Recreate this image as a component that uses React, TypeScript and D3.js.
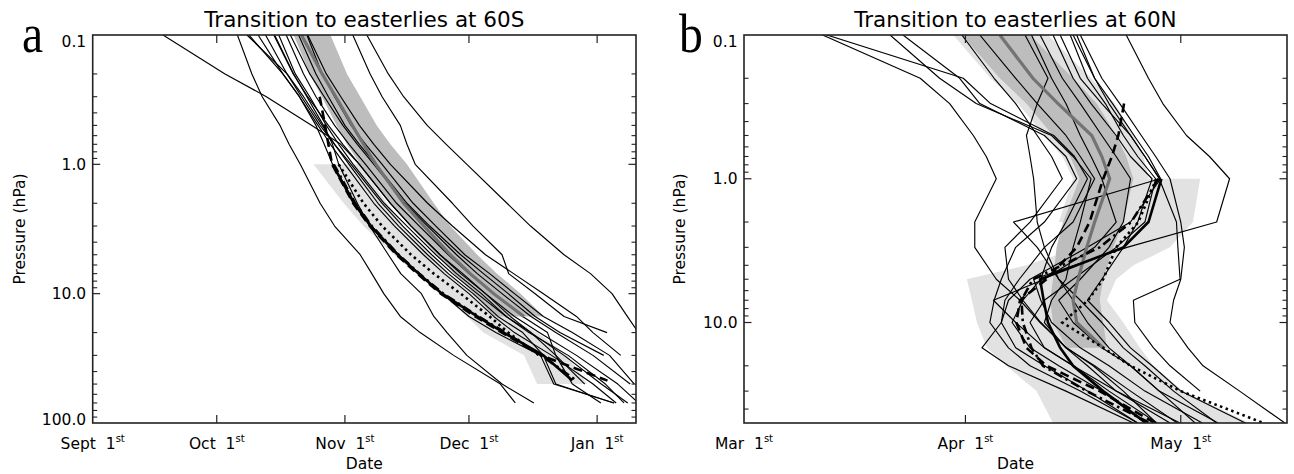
import React from 'react';
import * as d3 from 'd3';

type Num = number | null;

// ---------------- Panel a : transition to easterlies at 60S (days from Sept 1st) ----------------
const LEVELS_A = [0.1, 0.2, 0.3, 0.5, 0.7, 1, 2, 3, 5, 7, 10, 15, 20, 30, 50, 70];
const MODELS_A: Num[][] = [
  [17, 32, 42, 53, 60, 64.5, 72, 77, 84, 89.5, 95, 101, 106, 112, 119, null],
  [35, 38.5, 41, 45.3, 47.5, 50.2, 55, 58.5, 64.7, 67.5, 70.4, 74.4, 79.2, 87.3, 98.6, 102.2],
  [44, 48.6, 51.8, 55.8, 58, 59.5, 64, 67, 71.5, 74.5, 79.5, 82.5, 85.7, 90.5, 99, 106.7],
  [66.3, 71.5, 75.2, 80.9, 85.5, 90.5, 100.2, 105.9, 114, 120.4, 125.6, 129.3, 132, null, null, null],
  [62.9, 67.1, 70, 74.4, 76, 78, 87, 92, 99, 100.6, 107, 114, 124.4, null, null, null],
  [52, 56.5, 60, 64.5, 68, 72, 81, 87, 95, 101.8, 109, 117, 121, 127.7, null, null],
  [37.3, 47, 51, 55.5, 58.5, 62, 69, 74, 81, 86, 92, 98, 104, 109, 112, 126],
  [37.8, 46, 50, 54.5, 57.5, 61, 68, 73, 80, 85, 91, 97, 102, 111, 121, 126.6],
  [41.8, 47, 50.5, 55, 58.5, 62.5, 70, 75, 82, 87, 93, 100, 106, 114, 123, 129.4],
  [43.8, 48.5, 52, 57, 60.5, 64.5, 72, 77, 84, 89, 95, 102, 108, 117, 127, 132],
  [46.8, 51, 54, 58.5, 62, 66, 73.5, 79, 86, 91, 97, 104, 110, 112, 116, 122.9],
  [47.8, 52.5, 56, 60.5, 64, 68, 75.5, 81, 88, 93, 99, 106, 112, 121, 130, null],
  [49.8, 54, 57, 61, 64.5, 68.5, 76, 81.5, 89, 94.5, 100.5, 107, 113, 123.6, null, null],
  [51.8, 55.5, 58.5, 62.5, 66, 70, 77.5, 83, 90, 96, 102, 109, 116, 125, 131, null],
  [45, 49, 52.5, 56.5, 59.5, 63, 70.5, 76, 83, 88, 94, 100, 105.5, 115, 124, 128.5],
  [40, 46, 50, 54, 56, 58, 63.5, 67.5, 74, 79, 84.5, 91, 97.5, 108.3, 111.5, 126.1],
];
const SPREAD_LEV_A = [0.1, 0.2, 0.3, 0.5, 0.7, 1, 2, 3, 5, 7, 10, 15];
const SPREAD_LO_A = [48.6, 52.5, 55.4, 59, 61.5, 64.7, 72, 76.8, 83.3, 87.3, 92.2, 97];
const SPREAD_HI_A = [57.5, 61.5, 64.7, 68.7, 72, 76, 82.5, 86.5, 93, 97.8, 103.5, 109.1];
const MMM_A = [50.5, 55.5, 58.8, 62.8, 65.5, 68.5, 75.2, 80.1, 86.5, 91.3, 97, 104.3];
const OBSBAND_LEV_A = [1, 2, 3, 5, 7, 10, 15, 20, 30, 50];
const OBSBAND_LO_A = [53.4, 60.7, 65.5, 72.8, 78.4, 84.1, 90.5, 94.5, 104.3, 107.5];
const OBSBAND_HI_A = [64.7, 71.2, 75.2, 81.7, 86.5, 92.2, 100.2, 107.5, 114.8, 119.6];
const OBS_LEV_A = [0.3, 0.5, 0.7, 1, 2, 3, 5, 7, 10, 15, 20, 30, 47];
const OBS_SOLID_A: Num[] = [null, null, null, 58, 63.2, 67.2, 73.8, 78.8, 84.5, 93, 99.4, 109, 116];
const OBS_DASH_A: Num[] = [54.9, 56.2, 57, 57.9, 63, 67, 73.5, 78.5, 84.2, 92.5, 99, 108.5, 124.5];
const OBS_DASHDOT_A: Num[] = [null, null, null, 58.3, 63.5, 67.5, 74, 79, 84.8, 93.3, 99.8, 108.5, 117];
const OBS_DOT_A: Num[] = [null, null, null, 59.5, 65.5, 70, 77, 82.5, 89, 96, 100.5, 108, null];
const MONTH_DAYS_A = [0, 30, 61, 91, 122];
const MONTH_NAMES_A = ['Sept', 'Oct', 'Nov', 'Dec', 'Jan'];
const YTICKS_A = [0.1, 1, 10, 100];
const YTICK_LABELS_A = ['0.1', '1.0', '10.0', '100.0'];

// ---------------- Panel b : transition to easterlies at 60N (days from Mar 1st) ----------------
const LEVELS_B = [0.1, 0.2, 0.3, 0.5, 0.7, 1, 2, 3, 5, 7, 10, 15, 20, 30, 50];
const MODELS_B: Num[][] = [
  [11.1, 24.7, 28.8, 32.1, 33.9, 35.3, 32.3, 32.3, 35.3, 38.6, 41.4, 45.1, 48.8, 53, 57.6],
  [11.7, 30.7, 34.5, 43.3, 46.2, 48, 45, 43, 41.5, 39, 37.5, 40, 44, 50, 56],
  [20.5, 27.4, 32.5, 43, 46, 48.5, 47, 46, 45, 43, 42, 45, 49, 54, 60.5],
  [22.3, 30.2, 33, 42, 45, 46.5, 42, 38, 36, 35, 34.4, 37, 40, 47, 55],
  [39.3, 42.5, 41, 39.5, 40, 40.5, 41, 42, 44, 47, 50, 53, 56, 60, 66],
  [40.2, 43, 45, 47, 48.5, 50, 52, 49, 42, 34.9, 38, 42, 46, 51, 57.7],
  [41.4, 44.5, 47, 50, 52, 54, 53, 51, 47, 44, 46, 50, 54, 58, 66.2],
  [43.2, 46, 48.5, 52, 54, 57, 55, 53, 50, 48, 51, 54, 57, 61, 70],
  [44.2, 47, 50, 54, 56, 58, 60.4, 60.6, 60.9, 54.4, 54.6, 57.2, 59.5, 63.7, null],
  [45.6, 48, 50.5, 53, 55, 57.5, 56, 52, 46, 42, 40, 42, 46, 52, 60.9],
  [46, 49, 51.5, 54.5, 56.5, 58.2, 54, 48, 40, 37, 36, 38, 42, 48, 55],
  [53.4, 56.5, 58.5, 61.8, 65, 67.8, 66, 53.5, 40.5, 41.5, 43, 47, 51, 56, 64],
  [33, 38, 41, 45, 47, 49, 46, 42, 38.5, 36.5, 36, 33.3, 37, 45, 54.4],
  [47, 50, 52.5, 55.5, 57.5, 59.5, 61, 61.5, 61, 60, 59.5, 62, 64.1, 69.2, 75.5],
  [46.5, 49, 51, 54, 56, 58.1, 37.7, 41, 44, 46, 48, 51, 54, 58, 63],
  [30.5, 35, 38, 41, 43, 44.5, 40, 36.5, 37, 39, 41.5, 45, 48, 52, 59.5],
];
const SPREAD_LEV_B = [0.1, 0.2, 0.3, 0.5, 0.7, 1, 2, 3, 5, 7, 10, 15];
const SPREAD_LO_B = [30.5, 35.8, 39.5, 43.2, 45.6, 46.9, 44.6, 43.7, 43.2, 42.8, 43.2, 45.1];
const SPREAD_HI_B = [40, 46, 49.3, 52, 53.4, 54.4, 53, 51.6, 50.2, 49.7, 50.2, 50.7];
const RANGE_LEV_B = [0.1, 0.2, 0.3, 0.5, 0.7, 1, 2];
const RANGE_LO_B = [29.3, 34.5, 38.3, 42, 44.5, 46, 44];
const RANGE_HI_B = [42.5, 48.5, 51.8, 54.5, 55.8, 56.5, 54.5];
const MMM_B = [35.8, 40.4, 43.9, 48.6, 50, 51.1, 49, 47.9, 46.7, 46, 46.5, 50.2];
const OBSBAND_LEV_B = [1, 2, 3, 4, 5, 7, 10, 15, 20, 30, 50];
const OBSBAND_LO_B = [55.3, 51.6, 46.9, 39.5, 31.2, 31.9, 32.6, 34, 36.7, 40.9, 43.2];
const OBSBAND_HI_B = [63.7, 62.7, 59.5, 54.4, 52, 50.7, 53, 55.3, 57.2, 61.3, 70.6];
const OBS_LEV_B = [0.3, 0.5, 0.7, 1, 2, 3, 5, 7, 10, 15, 20, 30, 50];
const OBS_SOLID_B: Num[] = [null, null, null, 58.3, 56.5, 53, 41.4, 41.9, 42.5, 44.2, 46, 50.2, 56.2];
const OBS_DASH_B: Num[] = [53.1, 52.3, 51.4, 50.2, 48.3, 46.5, 42.3, 38.6, 38.1, 39.5, 42.3, 49.7, 57.4];
const OBS_DASHDOT_B: Num[] = [null, null, null, 57.9, 54.1, 49.7, 40.4, 38.8, 39, 40.2, 41.8, 47.9, 56.7];
const OBS_DOT_B: Num[] = [null, null, null, 57.6, 55.1, 52, 50.2, 48.1, 44.5, 50.2, 54, 61, 72.5];
const MONTH_DAYS_B = [0, 31, 61];
const MONTH_NAMES_B = ['Mar', 'Apr', 'May'];
const YTICKS_B = [0.1, 1, 10];
const YTICK_LABELS_B = ['0.1', '1.0', '10.0'];

// ---------------- layout ----------------
const FONT = '"DejaVu Sans", sans-serif';

interface Cfg {
  id: string;
  left: number; right: number; top: number; bottom: number;
  dayDomain: [number, number]; pDomain: [number, number];
  title: string; letter: string; letterX: number; ylabelX: number;
  monthDays: number[]; monthNames: string[];
  yTicks: number[]; yTickLabels: string[];
  levels: number[]; models: Num[][];
  spreadLev: number[]; spreadLo: number[]; spreadHi: number[]; mmm: number[];
  rangeLev?: number[]; rangeLo?: number[]; rangeHi?: number[];
  obsBandLev: number[]; obsBandLo: number[]; obsBandHi: number[];
  obsLev: number[]; obsSolid: Num[]; obsDash: Num[]; obsDashDot: Num[]; obsDot: Num[];
}

const CFG_A: Cfg = {
  id: 'a', left: 92.7, right: 636, top: 35, bottom: 423,
  dayDomain: [0, 131.4], pDomain: [0.1, 100],
  title: 'Transition to easterlies at 60S', letter: 'a', letterX: 22, ylabelX: 25,
  monthDays: MONTH_DAYS_A, monthNames: MONTH_NAMES_A,
  yTicks: YTICKS_A, yTickLabels: YTICK_LABELS_A,
  levels: LEVELS_A, models: MODELS_A,
  spreadLev: SPREAD_LEV_A, spreadLo: SPREAD_LO_A, spreadHi: SPREAD_HI_A, mmm: MMM_A,
  obsBandLev: OBSBAND_LEV_A, obsBandLo: OBSBAND_LO_A, obsBandHi: OBSBAND_HI_A,
  obsLev: OBS_LEV_A, obsSolid: OBS_SOLID_A, obsDash: OBS_DASH_A, obsDashDot: OBS_DASHDOT_A, obsDot: OBS_DOT_A,
};

const CFG_B: Cfg = {
  id: 'b', left: 744, right: 1287, top: 35, bottom: 423,
  dayDomain: [0.15, 75.8], pDomain: [0.1, 50],
  title: 'Transition to easterlies at 60N', letter: 'b', letterX: 679, ylabelX: 685,
  monthDays: MONTH_DAYS_B, monthNames: MONTH_NAMES_B,
  yTicks: YTICKS_B, yTickLabels: YTICK_LABELS_B,
  levels: LEVELS_B, models: MODELS_B,
  spreadLev: SPREAD_LEV_B, spreadLo: SPREAD_LO_B, spreadHi: SPREAD_HI_B, mmm: MMM_B,
  rangeLev: RANGE_LEV_B, rangeLo: RANGE_LO_B, rangeHi: RANGE_HI_B,
  obsBandLev: OBSBAND_LEV_B, obsBandLo: OBSBAND_LO_B, obsBandHi: OBSBAND_HI_B,
  obsLev: OBS_LEV_B, obsSolid: OBS_SOLID_B, obsDash: OBS_DASH_B, obsDashDot: OBS_DASHDOT_B, obsDot: OBS_DOT_B,
};

function Panel({ c }: { c: Cfg }) {
  const x = d3.scaleLinear().domain(c.dayDomain).range([c.left, c.right]);
  const y = d3.scaleLog().domain(c.pDomain).range([c.top, c.bottom]);
  const line = d3
    .line<[Num, number]>()
    .defined((d) => d[0] !== null)
    .x((d) => x(d[0] as number))
    .y((d) => y(d[1]));
  const series = (days: Num[], lev: number[]) => line(days.map((d, i) => [d, lev[i]] as [Num, number])) || '';
  const band = (lev: number[], lo: number[], hi: number[]) => {
    const pts: [number, number][] = [
      ...lev.map((p, i) => [x(lo[i]), y(p)] as [number, number]),
      ...lev.map((p, i) => [x(hi[i]), y(p)] as [number, number]).reverse(),
    ];
    return (d3.line()(pts) || '') + 'Z';
  };

  const minor: number[] = [];
  for (let e = -1; e <= 2; e++) {
    for (let k = 2; k <= 9; k++) {
      const v = k * Math.pow(10, e);
      if (v > c.pDomain[0] * 1.0001 && v < c.pDomain[1] * 0.9999) minor.push(v);
    }
  }
  const cx = (c.left + c.right) / 2;
  const cy = (c.top + c.bottom) / 2;
  const clipId = 'clip' + c.id;
  const ax = '#222';

  return (
    <g>
      <defs>
        <clipPath id={clipId}>
          <rect x={c.left} y={c.top} width={c.right - c.left} height={c.bottom - c.top} />
        </clipPath>
      </defs>
      <g clipPath={`url(#${clipId})`}>
        <path d={band(c.obsBandLev, c.obsBandLo, c.obsBandHi)} fill="#e2e2e2" stroke="none" />
        {c.rangeLev && c.rangeLo && c.rangeHi && (
          <path d={band(c.rangeLev, c.rangeLo, c.rangeHi)} fill="#e2e2e2" stroke="none" />
        )}
        <path d={band(c.spreadLev, c.spreadLo, c.spreadHi)} fill="#bdbdbd" stroke="none" />
        {c.models.map((m, i) => (
          <path key={i} d={series(m, c.levels)} fill="none" stroke="#000" strokeWidth={1.15} strokeLinejoin="round" />
        ))}
        <path d={series(c.mmm, c.spreadLev)} fill="none" stroke="#737373" strokeWidth={3.2} />
        <path d={series(c.obsSolid, c.obsLev)} fill="none" stroke="#000" strokeWidth={2.6} />
        <path d={series(c.obsDash, c.obsLev)} fill="none" stroke="#000" strokeWidth={2.6} strokeDasharray="9,5" />
        <path d={series(c.obsDashDot, c.obsLev)} fill="none" stroke="#000" strokeWidth={2.6} strokeDasharray="9,4,2.5,4" />
        <path d={series(c.obsDot, c.obsLev)} fill="none" stroke="#000" strokeWidth={2.6} strokeDasharray="2.5,3.5" />
      </g>

      {/* axes box */}
      <rect x={c.left} y={c.top} width={c.right - c.left} height={c.bottom - c.top} fill="none" stroke={ax} strokeWidth={1.6} />

      {/* x ticks */}
      {c.monthDays.map((d, i) => {
        const px = Math.max(c.left, x(d));
        return (
          <g key={'xt' + i}>
            {px > c.left + 1 && (
              <>
                <line x1={px} x2={px} y1={c.bottom} y2={c.bottom - 8} stroke={ax} strokeWidth={1.2} />
                <line x1={px} x2={px} y1={c.top} y2={c.top + 8} stroke={ax} strokeWidth={1.2} />
              </>
            )}
            <text x={px} y={449} textAnchor="middle" fontFamily={FONT} fontSize={15.5} style={{ whiteSpace: 'pre' }}>
              {c.monthNames[i] + '  1'}
              <tspan fontSize={10} dy={-7}>st</tspan>
            </text>
          </g>
        );
      })}

      {/* y ticks */}
      {c.yTicks.map((p, i) => {
        const py = y(p);
        const isTop = i === 0;
        const isBottom = Math.abs(py - c.bottom) < 1;
        const base = isTop ? c.top + 12 : isBottom ? c.bottom + 2 : py + 5.5;
        return (
          <g key={'yt' + i}>
            {!isTop && !isBottom && (
              <>
                <line x1={c.left} x2={c.left + 7.5} y1={py} y2={py} stroke={ax} strokeWidth={1.2} />
                <line x1={c.right} x2={c.right - 7.5} y1={py} y2={py} stroke={ax} strokeWidth={1.2} />
              </>
            )}
            <text x={c.left - 6.5} y={base} textAnchor="end" fontFamily={FONT} fontSize={15.5}>
              {c.yTickLabels[i]}
            </text>
          </g>
        );
      })}
      {minor.map((p, i) => (
        <g key={'ym' + i}>
          <line x1={c.left} x2={c.left + 4.5} y1={y(p)} y2={y(p)} stroke={ax} strokeWidth={1.1} />
          <line x1={c.right} x2={c.right - 4.5} y1={y(p)} y2={y(p)} stroke={ax} strokeWidth={1.1} />
        </g>
      ))}

      {/* titles */}
      <text x={cx} y={27} textAnchor="middle" fontFamily={FONT} fontSize={21.5}>
        {c.title}
      </text>
      <text x={cx} y={469} textAnchor="middle" fontFamily={FONT} fontSize={15.5}>
        Date
      </text>
      <text
        transform={`translate(${c.ylabelX},${cy}) rotate(-90)`}
        textAnchor="middle"
        fontFamily={FONT}
        fontSize={15.5}
      >
        Pressure (hPa)
      </text>
      <text
        transform={`translate(${c.letterX},52) scale(0.85,1)`}
        fontFamily='"Liberation Serif", "Times New Roman", serif'
        fontSize={56}
      >
        {c.letter}
      </text>
    </g>
  );
}

export default function App() {
  return (
    <svg
      width={1294}
      height={474}
      viewBox="0 0 1294 474"
      style={{ position: 'absolute', left: 0, top: 0, display: 'block', background: '#fff' }}
    >
      <rect x={0} y={0} width={1294} height={474} fill="#fff" />
      <Panel c={CFG_A} />
      <Panel c={CFG_B} />
    </svg>
  );
}
